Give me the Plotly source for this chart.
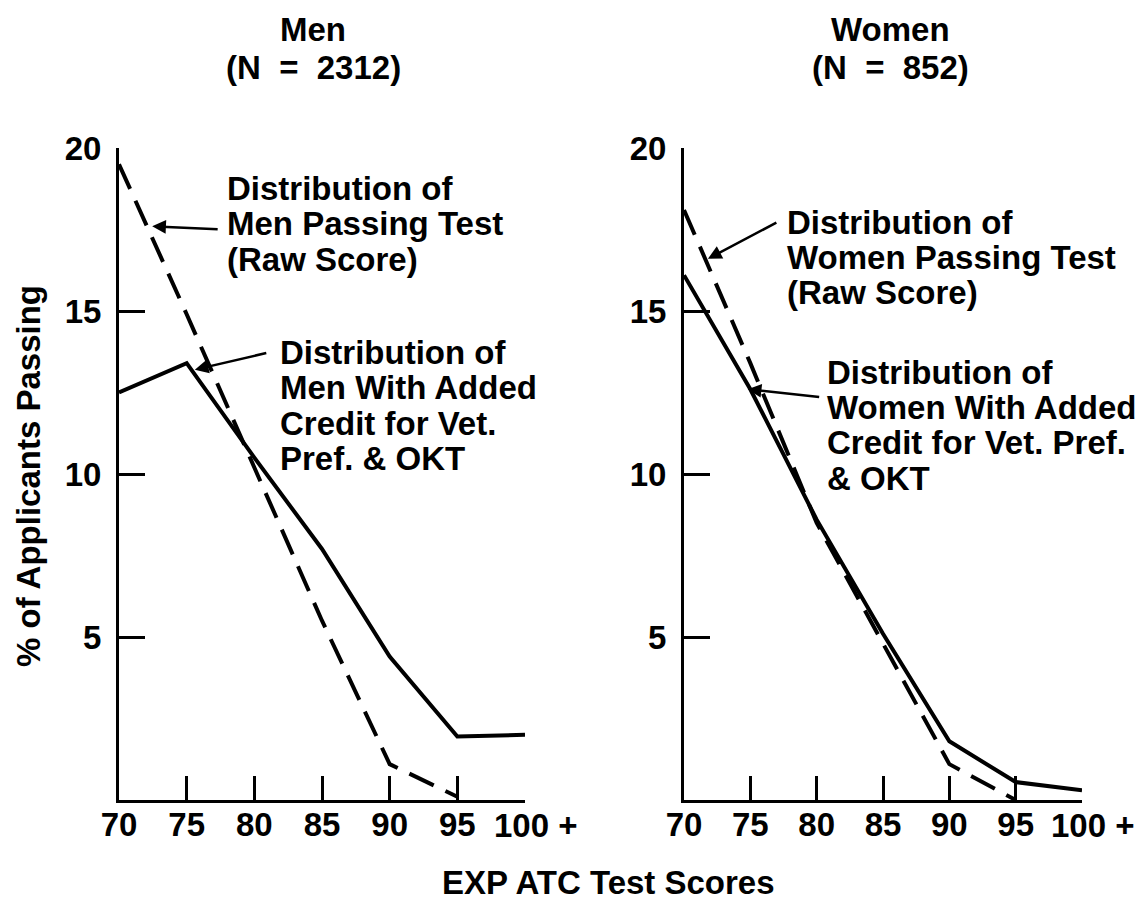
import plotly.graph_objects as go

# ---- data ----
scores = [70, 75, 80, 85, 90, 95, 100]
tick_labels = ["70", "75", "80", "85", "90", "95", "100 +"]
y_ticks = [5, 10, 15, 20]

men_raw = [19.5, 14.9, 10.2, 5.5, 1.1, 0.1]
men_added = [12.5, 13.4, 10.5, 7.7, 4.4, 1.95, 2.0]
women_raw = [18.1, 13.4, 8.5, 4.8, 1.1, 0.0]
women_added = [16.1, 12.6, 8.6, 5.1, 1.8, 0.55, 0.3]

W, H = 1148, 902
OFFX, OFFY = 6, 8  # page body margin shifts the figure
FONT = "Liberation Sans, Arial, Helvetica, sans-serif"


def px(x):
    return (x - OFFX) / W


def py(y):
    return 1 - (y - OFFY) / H


fig = go.Figure()

dash = "27px,13px"
fig.add_trace(go.Scatter(x=scores[:len(men_raw)], y=men_raw, mode="lines",
                         line=dict(color="black", width=4, dash=dash),
                         xaxis="x", yaxis="y", cliponaxis=False))
fig.add_trace(go.Scatter(x=scores, y=men_added, mode="lines",
                         line=dict(color="black", width=4),
                         xaxis="x", yaxis="y", cliponaxis=False))
fig.add_trace(go.Scatter(x=scores[:len(women_raw)], y=women_raw, mode="lines",
                         line=dict(color="black", width=4, dash=dash),
                         xaxis="x2", yaxis="y2", cliponaxis=False))
fig.add_trace(go.Scatter(x=scores, y=women_added, mode="lines",
                         line=dict(color="black", width=4),
                         xaxis="x2", yaxis="y2", cliponaxis=False))

tickfont = dict(family=FONT, size=33, color="black", weight="bold")
# last label ("100 +") is drawn as an annotation so it can sit slightly right of its tick
axis_ticktext = tick_labels[:-1] + [""]
xaxis_common = dict(range=[70, 100], tickvals=scores, ticktext=axis_ticktext,
                    showline=True, linewidth=3, linecolor="black",
                    ticks="inside", ticklen=24, tickwidth=2.5, tickcolor="black",
                    showgrid=False, zeroline=False, tickfont=tickfont,
                    fixedrange=True, automargin=False)
yaxis_common = dict(range=[0, 20], tickvals=y_ticks,
                    showline=True, linewidth=3, linecolor="black",
                    ticks="inside", ticklen=26, tickwidth=2.5, tickcolor="black",
                    showgrid=False, zeroline=False, tickfont=tickfont,
                    ticklabelstandoff=8, fixedrange=True, automargin=False,
                    domain=[py(800), py(148)])

fig.update_layout(
    width=W, height=H,
    margin=dict(l=0, r=0, t=0, b=0, pad=0, autoexpand=False),
    paper_bgcolor="white", plot_bgcolor="white",
    showlegend=False,
    xaxis=dict(domain=[px(117), px(523)], anchor="y", **xaxis_common),
    yaxis=dict(anchor="x", **yaxis_common),
    xaxis2=dict(domain=[px(682), px(1080)], anchor="y2", **xaxis_common),
    yaxis2=dict(anchor="x2", **yaxis_common),
)
try:
    fig.update_xaxes(ticklabelstandoff=-7)
except Exception:
    fig.update_xaxes(ticklabelstandoff=0)

textfont = dict(family=FONT, size=33, color="black", weight="bold")
titlefont = dict(family=FONT, size=33, color="black", weight="bold")
ann = []


def add_lines(lines, x_left, y_first, spacing, xanchor="left", font=textfont):
    for i, t in enumerate(lines):
        ann.append(dict(text=t, x=px(x_left), y=py(y_first + i * spacing),
                        xref="paper", yref="paper", xanchor=xanchor,
                        yanchor="middle", showarrow=False, font=font))


# titles
add_lines(["Men", "(N  =  2312)"], 311, 29, 38, xanchor="center", font=titlefont)
add_lines(["Women", "(N  =  852)"], 888, 29, 38, xanchor="center", font=titlefont)

# annotations
add_lines(["Distribution of", "Men Passing Test", "(Raw Score)"], 223, 188, 35.5)
add_lines(["Distribution of", "Men With Added", "Credit for Vet.", "Pref. & OKT"], 276, 352, 35.5)
add_lines(["Distribution of", "Women Passing Test", "(Raw Score)"], 783, 222, 35.5)
add_lines(["Distribution of", "Women With Added", "Credit for Vet. Pref.", "& OKT"], 823, 372, 35.5)

# last x tick label for each panel
for xr in ("x", "x2"):
    ann.append(dict(text=tick_labels[-1], x=scores[-1], xref=xr, y=py(825), yref="paper",
                    xanchor="center", yanchor="middle", xshift=11, showarrow=False,
                    font=tickfont))

# axis titles
ann.append(dict(text="EXP ATC Test Scores", x=px(606), y=py(882), xref="paper", yref="paper",
                xanchor="center", yanchor="middle", showarrow=False, font=textfont))
ann.append(dict(text="% of Applicants Passing", x=px(27), y=py(476), xref="paper", yref="paper",
                xanchor="center", yanchor="middle", showarrow=False, textangle=-90, font=textfont))

# arrows (head at data point, tail offset in pixels)
arrow_style = dict(showarrow=True, arrowhead=2, arrowsize=1.1, arrowwidth=2.5,
                   arrowcolor="black", text="", standoff=0)
ann.append(dict(x=72.45, y=17.6, xref="x", yref="y", ax=67, ay=3, **arrow_style))
ann.append(dict(x=75.6, y=13.2, xref="x", yref="y", ax=73, ay=-17, **arrow_style))
ann.append(dict(x=71.8, y=16.6, xref="x2", yref="y2", ax=70, ay=-37, **arrow_style))
ann.append(dict(x=74.8, y=12.6, xref="x2", yref="y2", ax=73, ay=8, **arrow_style))

fig.update_layout(annotations=ann)

fig.write_html("out.html")
